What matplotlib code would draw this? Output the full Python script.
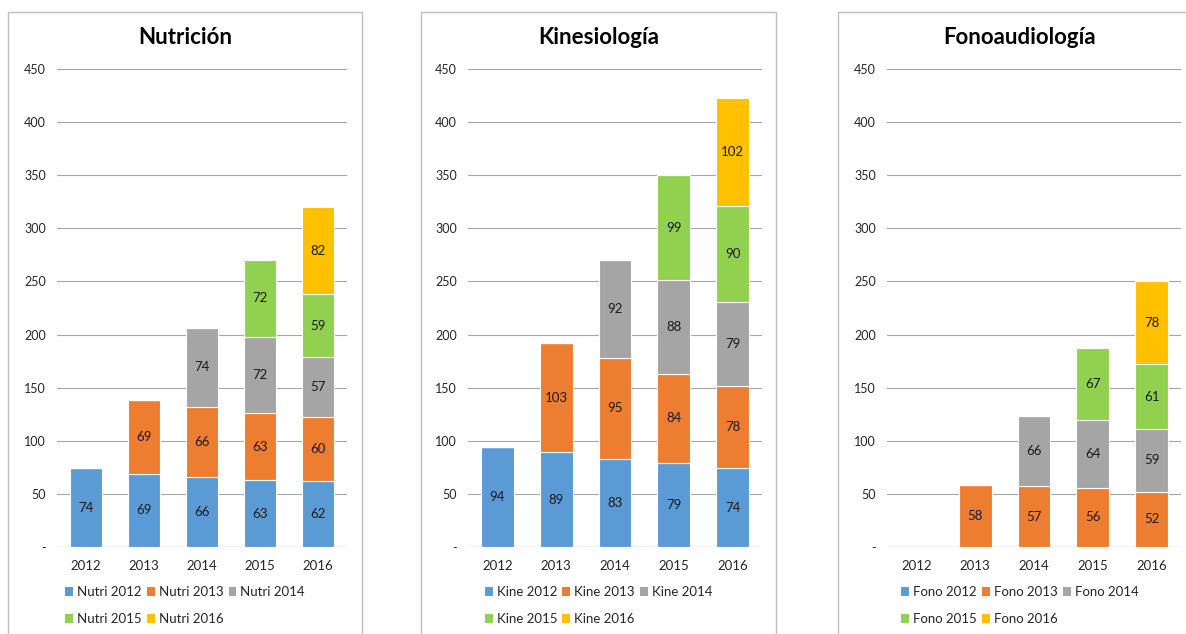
import numpy as np
import matplotlib
matplotlib.use("Agg")
import matplotlib.pyplot as plt
from matplotlib.patches import Patch, Rectangle

plt.rcParams['font.family'] = ['Lato', 'DejaVu Sans']

years = ['2012', '2013', '2014', '2015', '2016']
colors = ['#5B9BD5', '#ED7D31', '#A5A5A5', '#92D050', '#FFC000']

# one list per cohort (ingreso), stacked per year
nutri_2012 = [74, 69, 66, 63, 62]
nutri_2013 = [0, 69, 66, 63, 60]
nutri_2014 = [0, 0, 74, 72, 57]
nutri_2015 = [0, 0, 0, 72, 59]
nutri_2016 = [0, 0, 0, 0, 82]

kine_2012 = [94, 89, 83, 79, 74]
kine_2013 = [0, 103, 95, 84, 78]
kine_2014 = [0, 0, 92, 88, 79]
kine_2015 = [0, 0, 0, 99, 90]
kine_2016 = [0, 0, 0, 0, 102]

fono_2012 = [0, 0, 0, 0, 0]
fono_2013 = [0, 58, 57, 56, 52]
fono_2014 = [0, 0, 66, 64, 59]
fono_2015 = [0, 0, 0, 67, 61]
fono_2016 = [0, 0, 0, 0, 78]

panels = [
    ('Nutrición', 'Nutri', [nutri_2012, nutri_2013, nutri_2014, nutri_2015, nutri_2016]),
    ('Kinesiología', 'Kine', [kine_2012, kine_2013, kine_2014, kine_2015, kine_2016]),
    ('Fonoaudiología', 'Fono', [fono_2012, fono_2013, fono_2014, fono_2015, fono_2016]),
]

W, H = 1186, 634
fig = plt.figure(figsize=(W / 100, H / 100), dpi=100)

# pixel boxes: (panel left, panel right, axes left, axes right)
boxes = [(8, 362, 57, 347), (421, 776, 468, 762), (838, 1202, 887, 1181)]
ax_top, ax_bot = 69, 547

for (title, short, series), (pl, pr, al, ar) in zip(panels, boxes):
    fig.patches.append(Rectangle((pl / W, -0.1), (pr - pl) / W, 1.1 - 12 / H,
                                 transform=fig.transFigure, fill=False,
                                 edgecolor='#bfbfbf', linewidth=1.0))
    ax = fig.add_axes([al / W, 1 - ax_bot / H, (ar - al) / W, (ax_bot - ax_top) / H])
    x = np.arange(len(years))
    bottom = np.zeros(len(years))
    for vals, c in zip(series, colors):
        vals = np.array(vals)
        bars = ax.bar(x, vals, 0.56, bottom=bottom, color=c,
                      edgecolor='white', linewidth=0.8, zorder=2)
        ax.bar_label(bars, labels=[str(v) if v else '' for v in vals],
                     label_type='center', fontsize=9.5, color='#1a1a1a')
        bottom += vals

    ax.set_xlim(-0.5, len(years) - 0.5)
    ax.set_ylim(0, 450)
    ax.set_yticks(range(0, 451, 50))
    ax.set_yticklabels(['-'] + [str(v) for v in range(50, 451, 50)])
    ax.set_xticks(x)
    ax.set_xticklabels(years)
    ax.tick_params(axis='y', length=0, pad=8, labelsize=9, colors='#262626')
    ax.tick_params(axis='x', length=0, pad=9, labelsize=9.5, colors='#262626')
    ax.yaxis.grid(True, color='#a6a6a6', linewidth=0.8, zorder=0)
    ax.set_axisbelow(True)
    for s in ax.spines.values():
        s.set_visible(False)
    ax.axhline(0, color='#a6a6a6', linewidth=0.8, zorder=3)
    ax.patch.set_alpha(0)

    fig.text((pl + pr) / 2 / W, 1 - 38 / H, title, ha='center', va='center',
             fontsize=16, fontweight='bold', color='black')

    handles = [Patch(facecolor=c, edgecolor='none') for c in colors]
    labels = [f'{short} {y}' for y in years]
    order = [0, 3, 1, 4, 2]
    fig.legend([handles[i] for i in order], [labels[i] for i in order],
               loc='upper center', bbox_to_anchor=((pl + pr) / 2 / W, 1 - 586 / H),
               ncol=3, frameon=False, fontsize=9.5, handlelength=0.6, handleheight=0.6,
               handletextpad=0.3, columnspacing=0.4, labelspacing=1.15,
               borderaxespad=0, borderpad=0, labelcolor='#262626')

fig.savefig('out.png', dpi=100)
